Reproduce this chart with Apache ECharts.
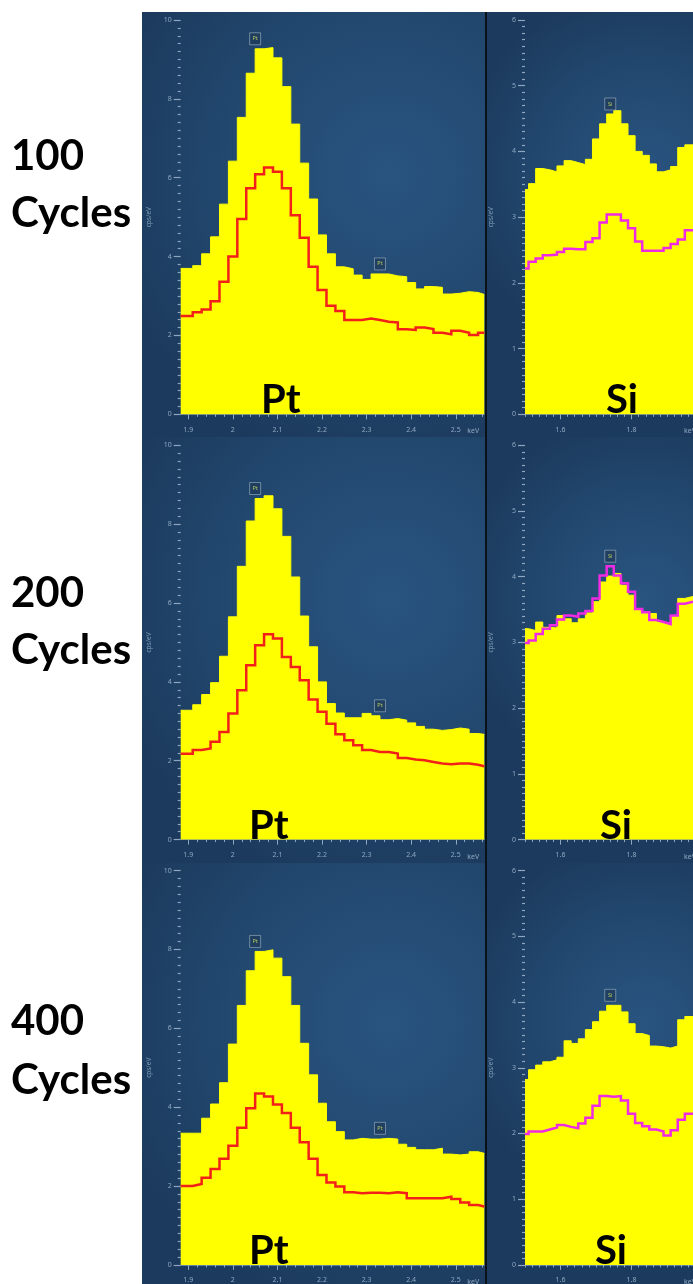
<!DOCTYPE html>
<html>
<head>
<meta charset="utf-8">
<script src="https://cdn.jsdelivr.net/npm/echarts@6/dist/echarts.min.js"></script>
<style>
  html, body { margin: 0; padding: 0; background: #ffffff; }
  #chart { width: 693px; height: 1284px; }
</style>
</head>
<body>
<div id="chart"></div>
<script>
// ---- Energy bins (keV). First and last bins are cut by the axis range. ----
const ptEdges = [1.883, 1.91, 1.93, 1.95, 1.97, 1.99, 2.01, 2.03, 2.05, 2.07, 2.09, 2.11,
  2.13, 2.15, 2.17, 2.19, 2.21, 2.23, 2.25, 2.27, 2.29, 2.31, 2.33, 2.35, 2.37, 2.39,
  2.41, 2.43, 2.45, 2.47, 2.49, 2.51, 2.53, 2.55, 2.564];
const siEdges = [1.5, 1.51, 1.53, 1.55, 1.57, 1.59, 1.61, 1.63, 1.65, 1.67, 1.69, 1.71,
  1.73, 1.75, 1.77, 1.79, 1.81, 1.83, 1.85, 1.87, 1.89, 1.91, 1.93, 1.95, 1.973];

// ---- Tick labels ----
const ptTickLabels = [1.9, 2, 2.1, 2.2, 2.3, 2.4, 2.5];
const siTickLabels = [1.6, 1.8];

// ---- Element line markers (keV) ----
const ptLines = [2.05, 2.33];
const siLines = [1.74];

// ---- Row labels ----
const cycles = ['100', '200', '400'];

// ---- Counts (cps/eV) per bin: filled spectrum and outlined spectrum ----
const pt100Fill = [3.70, 3.77, 4.07, 4.50, 5.33, 6.42, 7.53, 8.65, 9.27, 9.30, 9.04, 8.31, 7.36, 6.37,
  5.46, 4.55, 4.07, 3.74, 3.69, 3.53, 3.42, 3.56, 3.56, 3.51, 3.49, 3.34, 3.18, 3.24, 3.22, 3.05,
  3.07, 3.11, 3.09, 3.04];
const pt100Line = [2.49, 2.59, 2.66, 2.87, 3.36, 4.00, 4.95, 5.73, 6.09, 6.26, 6.15, 5.73, 5.05, 4.48,
  3.74, 3.15, 2.75, 2.62, 2.39, 2.39, 2.43, 2.39, 2.35, 2.33, 2.16, 2.14, 2.20, 2.16, 2.07, 2.03,
  2.12, 2.07, 2.01, 2.07];
const pt200Fill = [3.28, 3.42, 3.68, 3.98, 4.65, 5.65, 6.93, 8.08, 8.65, 8.72, 8.39, 7.69, 6.66, 5.67,
  4.89, 4.00, 3.45, 3.21, 3.09, 3.09, 3.20, 3.14, 3.04, 3.07, 3.03, 2.96, 2.87, 2.80, 2.77, 2.79,
  2.83, 2.80, 2.69, 2.67];
const pt200Line = [2.18, 2.27, 2.31, 2.48, 2.73, 3.20, 3.79, 4.42, 4.93, 5.21, 5.10, 4.63, 4.38, 4.04,
  3.55, 3.24, 2.94, 2.67, 2.52, 2.39, 2.27, 2.22, 2.22, 2.18, 2.07, 2.03, 2.01, 1.97, 1.93, 1.91,
  1.93, 1.93, 1.90, 1.86];
const pt400Fill = [3.34, 3.34, 3.72, 4.08, 4.62, 5.60, 6.58, 7.46, 7.95, 7.99, 7.78, 7.31, 6.58, 5.62,
  4.82, 4.10, 3.63, 3.38, 3.17, 3.21, 3.19, 3.19, 3.21, 3.19, 3.06, 2.98, 2.92, 2.92, 2.96, 2.81,
  2.79, 2.81, 2.87, 2.83];
const pt400Line = [2.00, 2.05, 2.21, 2.43, 2.69, 3.02, 3.48, 3.97, 4.35, 4.27, 4.07, 3.85, 3.48, 3.11,
  2.69, 2.28, 2.09, 1.99, 1.84, 1.82, 1.83, 1.83, 1.82, 1.84, 1.82, 1.69, 1.69, 1.69, 1.69, 1.73,
  1.67, 1.58, 1.52, 1.48];

const si100Fill = [3.42, 3.51, 3.74, 3.72, 3.69, 3.78, 3.86, 3.83, 3.80, 3.88, 4.19, 4.42, 4.57, 4.62,
  4.42, 4.24, 4.00, 3.94, 3.81, 3.69, 3.72, 3.77, 4.06, 4.10];
const si100Line = [2.22, 2.32, 2.37, 2.42, 2.43, 2.47, 2.52, 2.51, 2.51, 2.62, 2.68, 2.92, 3.04, 3.04,
  2.95, 2.83, 2.63, 2.49, 2.49, 2.49, 2.53, 2.59, 2.66, 2.80];
const si200Fill = [3.21, 3.18, 3.31, 3.23, 3.22, 3.41, 3.36, 3.30, 3.36, 3.45, 3.62, 3.92, 4.01, 4.05,
  3.87, 3.72, 3.51, 3.44, 3.44, 3.31, 3.28, 3.41, 3.67, 3.70];
const si200Line = [2.99, 3.03, 3.13, 3.21, 3.26, 3.35, 3.41, 3.39, 3.44, 3.48, 3.67, 4.02, 4.16, 4.02,
  3.90, 3.77, 3.51, 3.46, 3.34, 3.31, 3.28, 3.41, 3.59, 3.62];
const si400Fill = [2.82, 2.97, 3.04, 3.09, 3.12, 3.16, 3.41, 3.37, 3.44, 3.58, 3.70, 3.86, 3.95, 3.95,
  3.85, 3.67, 3.52, 3.49, 3.33, 3.32, 3.30, 3.33, 3.73, 3.78];
const si400Line = [1.99, 2.03, 2.03, 2.06, 2.09, 2.13, 2.10, 2.08, 2.15, 2.24, 2.42, 2.57, 2.56, 2.57,
  2.50, 2.30, 2.16, 2.11, 2.06, 2.03, 1.97, 2.05, 2.21, 2.30];

// ---- Layout ----
const ROW_PITCH = 425.3;
const PANEL_TOP = 12;
const PLOT_TOP = 20, PLOT_H = 394.3;
const SEP_X = 485;

const kinds = {
  Pt: {
    edges: ptEdges, ticks: ptTickLabels, lines: ptLines, yMax: 10, yStep: 2,
    panelX: 142, panelW: 343, plotLeft: 180.7, plotW: 303.6, nameGap: 28,
    lineColor: '#f3201a', bigLabelDx: [100, 88, 88]
  },
  Si: {
    edges: siEdges, ticks: siTickLabels, lines: siLines, yMax: 6, yStep: 1,
    panelX: 487, panelW: 220, plotLeft: 525, plotW: 176, nameGap: 30,
    lineColor: '#ef2ae3', bigLabelDx: [97, 91, 86]
  }
};

const panels = [
  { row: 0, kind: 'Pt', fill: pt100Fill, line: pt100Line },
  { row: 0, kind: 'Si', fill: si100Fill, line: si100Line },
  { row: 1, kind: 'Pt', fill: pt200Fill, line: pt200Line },
  { row: 1, kind: 'Si', fill: si200Fill, line: si200Line },
  { row: 2, kind: 'Pt', fill: pt400Fill, line: pt400Line },
  { row: 2, kind: 'Si', fill: si400Fill, line: si400Line }
];

const AXIS_TEXT = '#8fa8c2';
const TICK = '#8ea6bf';
const SMALL_FONT = '"Noto Sans", "DejaVu Sans", sans-serif';
const BIG_FONT = 'Lato, "Open Sans", sans-serif';

// Histogram points for a step line: each bin starts at its left edge
function stepPoints(edges, vals) {
  return edges.map((e, i) => [e, vals[Math.min(i, vals.length - 1)]]);
}

// Highest count in the bins around a line energy (where its marker sits)
function markerValue(edges, seriesList, keV) {
  let m = 0;
  for (let i = 0; i < edges.length - 1; i++) {
    if (edges[i] < keV + 0.01 && edges[i + 1] > keV - 0.01) {
      seriesList.forEach(s => { m = Math.max(m, s[i]); });
    }
  }
  return m;
}

function minorTicks(min, max, majors) {
  const out = [];
  for (let k = Math.ceil(min / 0.02 - 1e-9); k * 0.02 <= max + 1e-9; k++) {
    const v = Math.round(k * 2) / 100;
    if (!majors.some(m => Math.abs(m - v) < 1e-6)) out.push(v);
  }
  return out;
}

const option = {
  animation: false,
  backgroundColor: '#ffffff',
  grid: [], xAxis: [], yAxis: [], series: [], graphic: []
};

// Panel backgrounds (whole pixels so neighbouring rows meet without a seam)
panels.forEach(p => {
  const k = kinds[p.kind];
  const y0 = Math.round(PANEL_TOP + p.row * ROW_PITCH);
  const y1 = p.row === 2 ? 1284 : Math.round(PANEL_TOP + (p.row + 1) * ROW_PITCH);
  option.graphic.push({
    type: 'rect', z: -10, silent: true,
    shape: { x: k.panelX, y: y0, width: k.panelW, height: y1 - y0 + (p.row === 2 ? 0 : 1) },
    style: {
      fill: {
        type: 'radial', x: 0.72, y: 0.38, r: 0.85,
        colorStops: [
          { offset: 0, color: '#295480' },
          { offset: 0.55, color: '#22486f' },
          { offset: 1, color: '#1c3a5d' }
        ]
      }
    }
  });
});
// Divider between the two columns
option.graphic.push({
  type: 'rect', z: -9, silent: true,
  shape: { x: SEP_X, y: PANEL_TOP, width: 2, height: 1284 - PANEL_TOP },
  style: { fill: '#0b1119' }
});

panels.forEach((p, gi) => {
  const k = kinds[p.kind];
  const top = PLOT_TOP + p.row * ROW_PITCH;
  const xMin = k.edges[0], xMax = k.edges[k.edges.length - 1];

  option.grid.push({ left: k.plotLeft, top: top, width: k.plotW, height: PLOT_H });

  // axis carrying the data and the minor ticks
  option.xAxis.push({
    gridIndex: gi, type: 'value', min: xMin, max: xMax, position: 'bottom',
    axisLine: { show: true, onZero: false, lineStyle: { color: '#5f82a6', width: 1 } },
    axisTick: { show: true, customValues: minorTicks(xMin, xMax, k.ticks), length: 2.5,
      lineStyle: { color: TICK, width: 1 } },
    axisLabel: { show: false },
    splitLine: { show: false }
  });
  // axis carrying the labelled ticks
  option.xAxis.push({
    gridIndex: gi, type: 'value', min: xMin, max: xMax, position: 'bottom',
    axisLine: { show: false, onZero: false },
    axisTick: { show: true, customValues: k.ticks, length: 5, lineStyle: { color: TICK, width: 1 } },
    axisLabel: { show: true, customValues: k.ticks, formatter: v => String(v), margin: 12,
      color: AXIS_TEXT, fontSize: 7, fontFamily: SMALL_FONT },
    splitLine: { show: false }
  });

  option.yAxis.push({
    gridIndex: gi, type: 'value', min: 0, max: k.yMax, interval: k.yStep,
    axisLine: { show: false },
    axisTick: { show: true, length: 7, lineStyle: { color: TICK, width: 1.2 } },
    minorTick: { show: true, splitNumber: 10, length: 3, lineStyle: { color: TICK, width: 1.2 } },
    axisLabel: { color: AXIS_TEXT, fontSize: 7, margin: 9, fontFamily: SMALL_FONT },
    splitLine: { show: false },
    name: 'cps/eV', nameLocation: 'middle', nameGap: k.nameGap,
    nameTextStyle: { color: '#7f99b4', fontSize: 6.5, fontFamily: SMALL_FONT }
  });

  const xIdx = gi * 2;
  option.series.push({
    type: 'line', xAxisIndex: xIdx, yAxisIndex: gi, step: 'end',
    data: stepPoints(k.edges, p.fill), showSymbol: false, symbol: 'none', z: 2,
    lineStyle: { color: '#ffff00', width: 1 },
    areaStyle: { color: '#ffff00', opacity: 1 }
  });
  option.series.push({
    type: 'line', xAxisIndex: xIdx, yAxisIndex: gi, step: 'end',
    data: stepPoints(k.edges, p.line), showSymbol: false, symbol: 'none', z: 3,
    lineStyle: { color: k.lineColor, width: 2.5, join: 'miter' }
  });
  option.series.push({
    type: 'scatter', xAxisIndex: xIdx, yAxisIndex: gi, z: 5,
    symbol: 'rect', symbolSize: [11, 12], symbolOffset: [0, -10],
    itemStyle: { color: '#1f3c5c', borderColor: '#9db0c3', borderWidth: 0.8 },
    label: { show: true, position: 'inside', formatter: '{b}', color: '#d6e65a',
      fontSize: 5.5, fontFamily: SMALL_FONT },
    data: k.lines.map(e => ({ name: p.kind, value: [e, markerValue(k.edges, [p.fill, p.line], e)] }))
  });

  // unit name at the end of the energy axis
  option.graphic.push({
    type: 'text', z: 20, silent: true,
    x: k.plotLeft + k.plotW - 17, y: top + PLOT_H + 17,
    style: { text: 'keV', fill: AXIS_TEXT, font: '7px ' + SMALL_FONT, align: 'left', verticalAlign: 'middle' }
  });

  // element name inside the plot
  option.graphic.push({
    type: 'text', z: 20, silent: true,
    x: k.plotLeft + k.bigLabelDx[p.row], y: top + PLOT_H + 6,
    style: { text: p.kind, fill: '#000000', font: 'bold 40px ' + BIG_FONT, align: 'center', verticalAlign: 'bottom' }
  });
});

// Row labels on the left
const rowLabelY = [[156, 213], [593, 650], [1021, 1080]];
cycles.forEach((c, r) => {
  option.graphic.push({
    type: 'text', z: 20, silent: true, x: 11, y: rowLabelY[r][0],
    style: { text: c, fill: '#000000', font: 'bold 42px ' + BIG_FONT, align: 'left', verticalAlign: 'middle' }
  });
  option.graphic.push({
    type: 'text', z: 20, silent: true, x: 11, y: rowLabelY[r][1],
    style: { text: 'Cycles', fill: '#000000', font: 'bold 42px ' + BIG_FONT, align: 'left', verticalAlign: 'middle' }
  });
});

const chart = echarts.init(document.getElementById('chart'), null, { renderer: 'canvas' });
chart.setOption(option);
</script>
</body>
</html>
